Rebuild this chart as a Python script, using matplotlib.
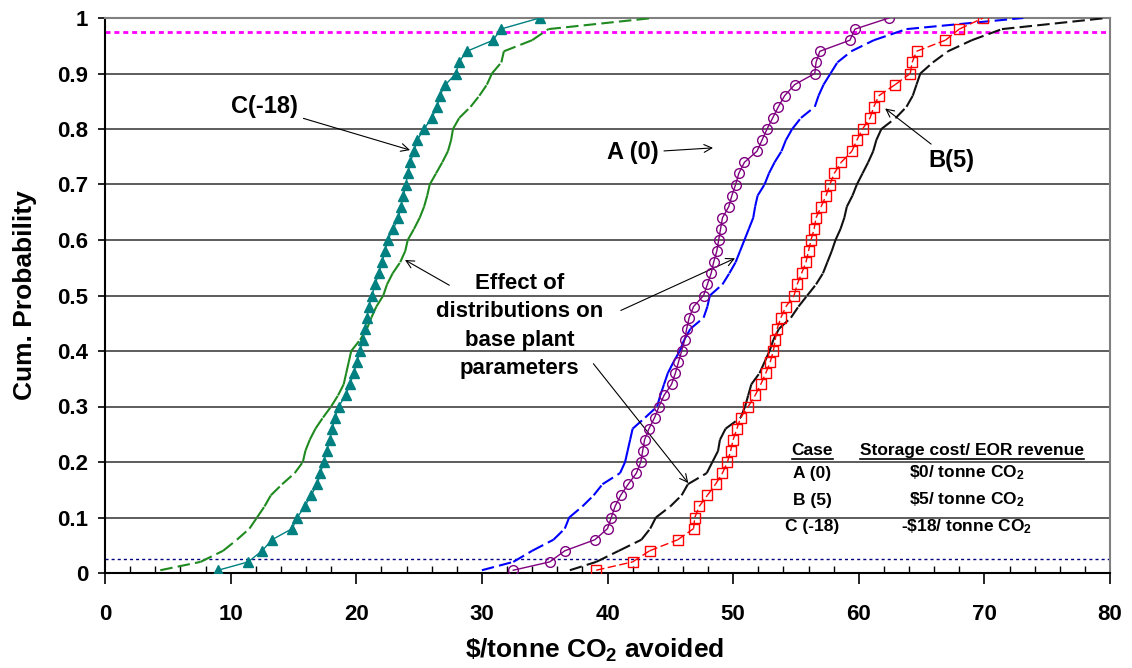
import numpy as np
import matplotlib
matplotlib.use('Agg')
import matplotlib.pyplot as plt
from matplotlib.collections import LineCollection
from matplotlib.lines import Line2D

plt.rcParams['font.family'] = ['Liberation Sans', 'DejaVu Sans']
plt.rcParams['font.weight'] = 'bold'
plt.rcParams['mathtext.fontset'] = 'custom'
plt.rcParams['mathtext.rm'] = 'Liberation Sans:bold'
plt.rcParams['mathtext.it'] = 'Liberation Sans:bold'
plt.rcParams['mathtext.bf'] = 'Liberation Sans:bold'

# cumulative probability levels at which the curves were read
prob = [0.005, 0.02, 0.04, 0.06, 0.08, 0.10, 0.12, 0.14, 0.16, 0.18, 0.20,
        0.22, 0.24, 0.26, 0.28, 0.30, 0.32, 0.34, 0.36, 0.38, 0.40,
        0.42, 0.44, 0.46, 0.48, 0.50, 0.52, 0.54, 0.56, 0.58, 0.60,
        0.62, 0.64, 0.66, 0.68, 0.70, 0.72, 0.74, 0.76, 0.78, 0.80,
        0.82, 0.84, 0.86, 0.88, 0.90, 0.92, 0.94, 0.96, 0.98, 1.00]

# case C (-18): markers = case only, line = with base plant distributions
c_case = [9.0, 11.4, 12.5, 13.3, 14.9, 15.3, 15.9, 16.4, 16.9, 17.15, 17.4,
          17.65, 17.9, 18.1, 18.3, 18.6, 19.15, 19.5, 19.8, 20.05, 20.3,
          20.5, 20.7, 20.85, 21.0, 21.25, 21.5, 21.8, 22.05, 22.3, 22.5,
          22.95, 23.35, 23.55, 23.75, 23.95, 24.1, 24.3, 24.6, 24.85, 25.4,
          26.0, 26.45, 26.65, 27.1, 27.95, 28.15, 28.8, 30.9, 31.5, 34.6]
c_base = [4.4, 7.6, 9.4, 10.5, 11.5, 12.1, 12.7, 13.2, 14.1, 15.1, 15.75,
          15.95, 16.3, 16.75, 17.35, 18.0, 18.55, 19.0, 19.2, 19.4, 19.6,
          20.3, 20.85, 21.2, 21.6, 22.15, 22.45, 22.9, 23.5, 23.9, 24.1,
          24.6, 25.05, 25.4, 25.65, 25.85, 26.35, 26.85, 27.3, 27.55, 27.7,
          28.2, 29.1, 29.8, 30.4, 30.8, 31.55, 31.75, 34.0, 35.3, 43.6]
# case A (0)
a_case = [32.5, 35.4, 36.6, 39.0, 40.0, 40.3, 40.6, 41.05, 41.65, 42.3, 42.65,
          42.8, 42.95, 43.3, 43.75, 44.1, 44.5, 45.1, 45.4, 45.65, 45.9,
          46.15, 46.3, 46.5, 46.85, 47.65, 47.95, 48.25, 48.45, 48.7, 48.85,
          49.0, 49.15, 49.65, 49.9, 50.2, 50.45, 50.9, 51.9, 52.3, 52.7,
          53.15, 53.6, 54.1, 54.9, 56.5, 56.6, 56.9, 59.3, 59.7, 62.4]
a_base = [30.0, 32.5, 34.0, 35.7, 36.6, 36.95, 38.0, 38.9, 39.6, 41.0, 41.4,
          41.6, 41.8, 42.0, 43.0, 43.95, 44.2, 44.5, 44.8, 45.25, 45.75,
          46.1, 46.6, 47.65, 47.95, 48.15, 49.15, 49.7, 50.2, 50.55, 50.9,
          51.25, 51.6, 51.75, 51.95, 52.5, 52.85, 53.3, 53.85, 54.2, 54.7,
          55.4, 56.5, 56.8, 57.2, 57.75, 58.3, 59.4, 61.2, 63.8, 73.1]
# case B (5)
b_case = [39.1, 42.0, 43.35, 45.6, 46.85, 46.95, 47.3, 47.95, 48.6, 49.15, 49.55,
          49.8, 50.0, 50.3, 50.6, 51.2, 51.75, 52.2, 52.6, 52.95, 53.2,
          53.35, 53.5, 53.8, 54.2, 54.85, 55.1, 55.45, 55.8, 56.0, 56.2,
          56.45, 56.6, 57.0, 57.4, 57.7, 58.05, 58.6, 59.45, 59.85, 60.3,
          60.9, 61.2, 61.6, 62.9, 64.1, 64.25, 64.6, 66.9, 68.0, 69.9]
b_base = [37.0, 39.1, 40.9, 42.7, 43.4, 43.85, 45.0, 45.9, 46.4, 47.9, 48.35,
          48.8, 48.95, 49.4, 50.6, 50.95, 51.2, 51.45, 52.1, 52.5, 52.9,
          53.2, 53.65, 54.6, 55.2, 55.9, 56.6, 57.15, 57.5, 57.85, 58.15,
          58.55, 58.85, 59.05, 59.5, 59.85, 60.3, 60.75, 61.15, 61.4, 61.8,
          62.95, 63.8, 64.3, 64.6, 64.9, 65.9, 67.1, 69.0, 71.4, 79.7]

cases = ['A (0)', 'B (5)', 'C (-18)']
costs = ['\\$0/ tonne CO$_2$', '\\$5/ tonne CO$_2$', '-\\$18/ tonne CO$_2$']

fig = plt.figure(figsize=(11.32, 6.68), dpi=100)
ax = fig.add_axes([105 / 1132, 95 / 668, 1005 / 1132, 555 / 668])


def dashed_curve(x, y, color, lw, dash=(6, 2.5)):
    # each segment gets its own dash pattern, so dense parts look solid
    pts = np.column_stack([x, y])
    segs = np.stack([pts[:-1], pts[1:]], axis=1)
    lc = LineCollection(segs, colors=color, linewidths=lw,
                        linestyles=[(0, dash)], zorder=3)
    ax.add_collection(lc)


dashed_curve(c_base, prob, '#1f8a1f', 1.5)
dashed_curve(a_base, prob, '#0000ff', 1.5)
dashed_curve(b_base, prob, '#111111', 1.5)

ax.plot(c_case, prob, color='#008080', lw=1, marker='^', ms=6.5,
        mfc='#008080', mec='#008080', zorder=4)
ax.plot(a_case, prob, color='#800080', lw=1, marker='o', ms=7,
        mfc='none', mec='#800080', mew=1, zorder=4)
ax.plot(b_case, prob, color='#ff0000', lw=0, marker='s', ms=7,
        mfc='none', mec='#ff0000', mew=1, zorder=4)
dashed_curve(b_case, prob, '#ff0000', 1.0)

ax.axhline(0.975, color='#ff00ff', lw=2, linestyle=(0, (1.8, 1.4)), zorder=2)
ax.axhline(0.025, color='#000080', lw=1, linestyle=(0, (2.2, 2.2)), zorder=2)

ax.set_xlim(0, 80)
ax.set_ylim(0, 1)
ax.set_xticks(np.arange(0, 81, 10))
ax.set_xticks(np.arange(0, 81, 2), minor=True)
ax.set_yticks(np.arange(0, 1.01, 0.1))
ax.set_yticklabels(['0', '0.1', '0.2', '0.3', '0.4', '0.5', '0.6', '0.7',
                    '0.8', '0.9', '1'])
ax.yaxis.grid(True, color='#303030', lw=1.1, zorder=1)
ax.set_axisbelow(True)
ax.tick_params(axis='x', which='major', direction='out', length=8, width=1.2,
               pad=14, labelsize=16)
ax.tick_params(axis='x', which='minor', direction='in', length=5, width=1)
ax.tick_params(axis='y', direction='out', length=5, width=1.2, pad=7,
               labelsize=16)
for side in ['left', 'bottom']:
    ax.spines[side].set_color('black')
    ax.spines[side].set_linewidth(1.5)
for side in ['right', 'top']:
    ax.spines[side].set_color('#808080')
    ax.spines[side].set_linewidth(1.5)

ax.set_ylabel('Cum. Probability', fontsize=19, fontweight='bold')
ax.yaxis.label.set_va('center')
ax.yaxis.set_label_coords(-0.0796, 0.5)
ax.set_xlabel('\\$/tonne CO$_2$ avoided', fontsize=19, fontweight='bold')
ax.xaxis.label.set_va('center')
ax.xaxis.set_label_coords(0.4876, -0.139)

arrow = dict(arrowstyle='->', color='black', lw=0.8,
             shrinkA=2, shrinkB=0, mutation_scale=14)
ax.annotate('C(-18)', xy=(24.28, 0.762), xytext=(12.7, 0.84), fontsize=17,
            fontweight='bold', ha='center', va='center', arrowprops=arrow)
ax.annotate('A (0)', xy=(48.4, 0.766), xytext=(42.0, 0.757), fontsize=17,
            fontweight='bold', ha='center', va='center', arrowprops=arrow)
ax.annotate('B(5)', xy=(62.1, 0.837), xytext=(67.4, 0.744), fontsize=17,
            fontweight='bold', ha='center', va='center', arrowprops=arrow)

ax.text(33.0, 0.445, 'Effect of\ndistributions on\nbase plant\nparameters',
        fontsize=16, fontweight='bold', ha='center', va='center',
        linespacing=1.45, zorder=5)
ax.annotate('', xy=(23.88, 0.564), xytext=(27.6, 0.516), arrowprops=arrow)
ax.annotate('', xy=(50.15, 0.567), xytext=(40.86, 0.471), arrowprops=arrow)
ax.annotate('', xy=(46.43, 0.162), xytext=(38.74, 0.381), arrowprops=arrow)

# small case table
head_case = ax.text(56.3, 0.2216, 'Case', fontsize=12.5, fontweight='bold',
                    ha='center', va='center')
head_cost = ax.text(69.0, 0.2216, 'Storage cost/ EOR revenue', fontsize=12.5,
                    fontweight='bold', ha='center', va='center')
row_y = [0.18, 0.1315, 0.0835]
for name, cost, yy in zip(cases, costs, row_y):
    ax.text(56.3, yy, name, fontsize=12.5, fontweight='bold',
            ha='center', va='center')
    ax.text(68.6, yy, cost, fontsize=12.5, fontweight='bold',
            ha='center', va='center')

fig.canvas.draw()
for t in [head_case, head_cost]:
    bb = t.get_window_extent()
    y0 = bb.y0 - 1
    fig.add_artist(Line2D([bb.x0 / 1132, bb.x1 / 1132], [y0 / 668, y0 / 668],
                          color='black', lw=1.2))

fig.savefig('out.png', dpi=100)
